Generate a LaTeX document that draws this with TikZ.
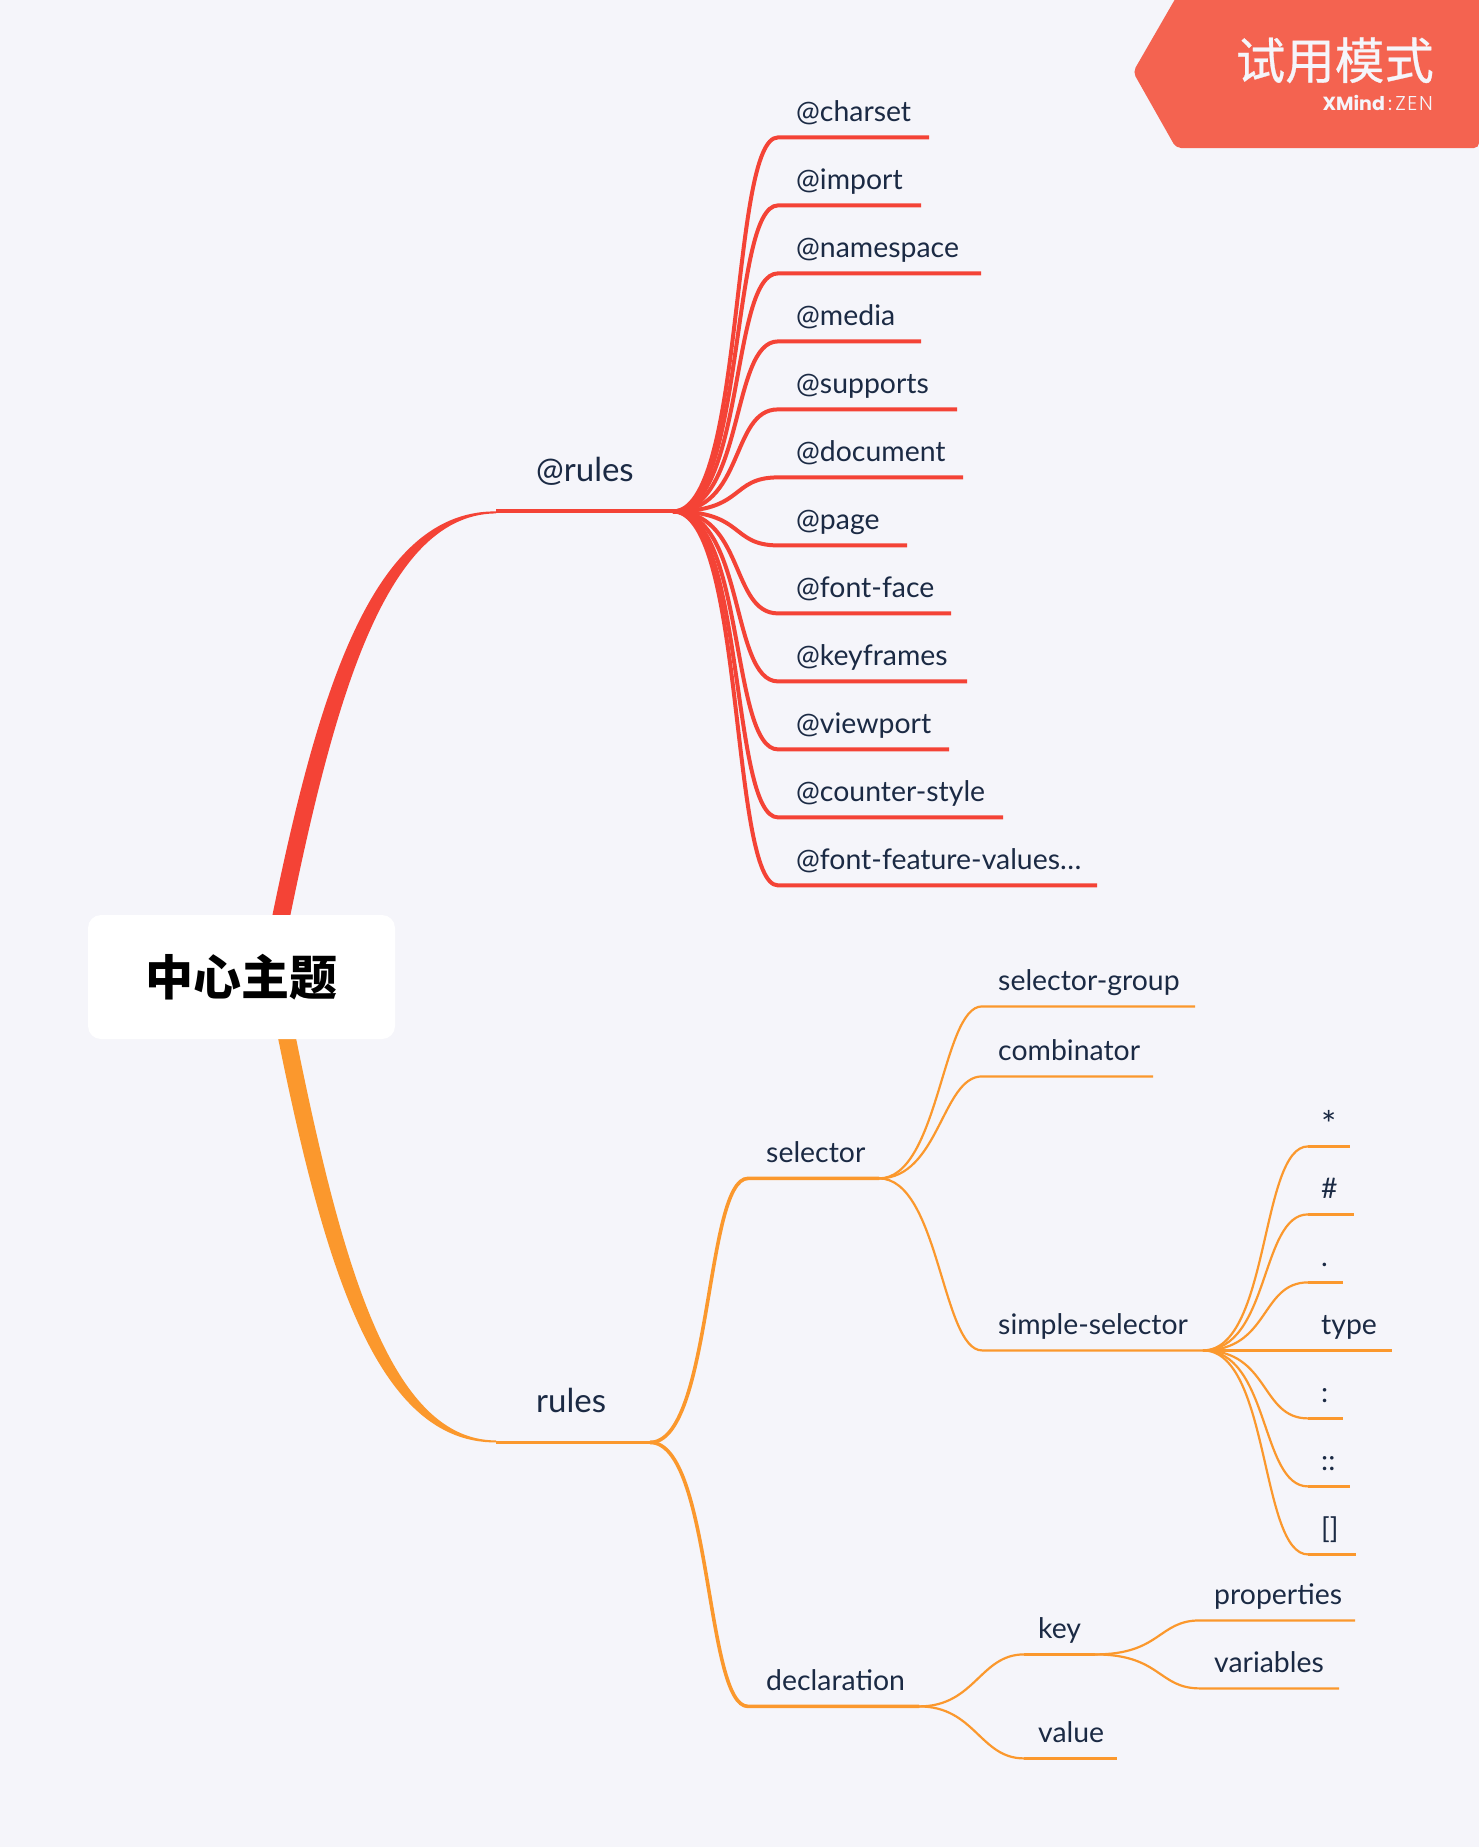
\documentclass[tikz,border=0pt]{standalone}
\usepackage{fontspec}
\setmainfont{Lato}
\newfontfamily\cjk{Noto Sans CJK SC}
\newfontfamily\badgecjk[FakeBold=0.6]{Noto Sans CJK SC}
\newfontfamily\logofont{Poppins}
\newfontfamily\logolight[LetterSpace=8]{Poppins Light}
\definecolor{pagebg}{HTML}{F5F5FA}
\definecolor{redline}{HTML}{F44336}
\definecolor{orangeline}{HTML}{FB982D}
\definecolor{inktext}{HTML}{1B2A44}
\definecolor{badge}{HTML}{F46350}
\newcommand\starlab{\raisebox{-7pt}{\fontsize{36}{36}\selectfont *}}
\tikzset{
  lab/.style={anchor=base west,inner sep=0pt,text=inktext,font=\fontsize{28.4}{32}\selectfont},
  biglab/.style={lab,font=\fontsize{33}{36}\selectfont},
  redl/.style={redline,line width=4pt},
  orl/.style={orangeline,line width=2.2pt},
  ormid/.style={orangeline,line width=3.6pt},
}

\begin{document}
\begin{tikzpicture}[x=1pt,y=-1pt]
  \useasboundingbox (0,0) rectangle (1479,1847);
  \fill[pagebg] (0,0) rectangle (1479,1847);

  \fill[badge,rounded corners=5pt] (1178,-6) -- (1133,72) -- (1176,148) -- (1479,148) -- (1479,-6) -- cycle;
  \node[anchor=base east,inner sep=0pt,text=pagebg,font=\badgecjk\fontsize{49.5}{52}\selectfont] (badgetitle) at (1434,79) {试用模式};
  \node[anchor=base east,inner sep=0pt,text=pagebg,font=\logofont\fontsize{19}{22}\selectfont] (badgelogo) at (1433,110) {\textbf{XMind}\,:\,{\logolight\fontsize{20}{22}\selectfont ZEN}};

  \begin{scope}[shift={(0,.4)}]
  \coordinate (rulesa) at (496,511);
  \coordinate (rulesb) at (673,511);
  \coordinate (plaina) at (496,1442);
  \coordinate (plainb) at (650,1442);

  \fill[redline] (260,977) .. controls (310,720) and (363,510) .. (rulesa)
    -- ++(0,2) .. controls (379,514) and (328,720) .. (278,977) -- cycle;
  \fill[orangeline] (266,977) .. controls (316,1234) and (366,1443) .. (plaina)
    -- ++(0,-2) .. controls (382,1440) and (334,1234) .. (284,977) -- cycle;

  \draw[redl] (rulesa) -- (rulesb);
  \node[biglab] (atrules) at (536,481) {@rules};
  \draw[ormid] (plaina) -- (plainb);
  \node[biglab] (plainrules) at (536,1412) {rules};

  \foreach \nm/\txt/\yy/\xe in {charset/@charset/137/929,import/@import/205/921,
    namespace/@namespace/273/981,media/@media/341/921,supports/@supports/409/957,
    document/@document/477/963,page/@page/545/907,fontface/@font-face/613/951,
    keyframes/@keyframes/681/967,viewport/@viewport/749/949,
    counter/@counter-style/817/1003,feature/@font-feature-values…/885/1097} {
    \coordinate (\nm a) at (778,\yy);
    \coordinate (\nm b) at (\xe,\yy);
    \draw[redl] (rulesb) .. controls +(72,0) and +(-48,0) .. (\nm a) -- (\nm b);
    \node[lab] (\nm) at (796,\yy-16) {\txt};
  }

  \coordinate (sela) at (748,1178);
  \coordinate (selb) at (879,1178);
  \coordinate (decla) at (748,1706);
  \coordinate (declb) at (919,1706);
  \draw[ormid] (plainb) .. controls +(62,0) and +(-43,0) .. (sela) -- (selb);
  \draw[ormid] (plainb) .. controls +(62,0) and +(-43,0) .. (decla) -- (declb);
  \node[lab] (selector) at (766,1162) {selector};
  \node[lab] (declaration) at (766,1690) {declaration};

  \foreach \nm/\txt/\yy/\xe in {selgroup/selector-group/1006/1195,
    combinator/combinator/1076/1153,simple/simple-selector/1350/1203} {
    \coordinate (\nm a) at (982,\yy);
    \coordinate (\nm b) at (\xe,\yy);
    \draw[orl] (selb) .. controls +(60,0) and +(-40,0) .. (\nm a) -- (\nm b);
    \node[lab] (\nm) at (998,\yy-15.5) {\txt};
  }

  \foreach \nm/\txt/\yy/\xe in {star/\starlab/1146/1350,hash/\#/1214/1354,dot/./1282/1343,
    type/type/1350/1392,colon/:/1418/1343,dcolon/::/1486/1350,brack/[]/1554/1356} {
    \coordinate (\nm a) at (1308,\yy);
    \coordinate (\nm b) at (\xe,\yy);
    \draw[orl] (simpleb) .. controls +(67,0) and +(-48,0) .. (\nm a);
    \draw[ormid] (\nm a) -- (\nm b);
    \node[lab] (\nm) at (1321,\yy-15.5) {\txt};
  }

  \coordinate (keya) at (1024,1654);
  \coordinate (keyb) at (1095,1654);
  \coordinate (valuea) at (1024,1758);
  \coordinate (valueb) at (1117,1758);
  \draw[orl] (declb) .. controls +(56,0) and +(-44,0) .. (keya);
  \draw[ormid] (keya) -- (keyb);
  \draw[orl] (declb) .. controls +(56,0) and +(-44,0) .. (valuea);
  \draw[ormid] (valuea) -- (valueb);
  \node[lab] (key) at (1038,1638) {key};
  \node[lab] (value) at (1038,1742) {value};

  \foreach \nm/\txt/\yy/\xe in {properties/properties/1620/1355,variables/variables/1688/1339} {
    \coordinate (\nm a) at (1200,\yy);
    \coordinate (\nm b) at (\xe,\yy);
    \draw[orl] (keyb) .. controls +(66,0) and +(-42,0) .. (\nm a) -- (\nm b);
    \node[lab] (\nm) at (1214,\yy-15.5) {\txt};
  }
  \end{scope}

  \node[fill=white,rounded corners=13pt,minimum width=307pt,minimum height=124pt,inner sep=0pt,
    font=\cjk\bfseries\fontsize{48}{50}\selectfont] (root) at (241.5,977) {中心主题};
\end{tikzpicture}
\end{document}
